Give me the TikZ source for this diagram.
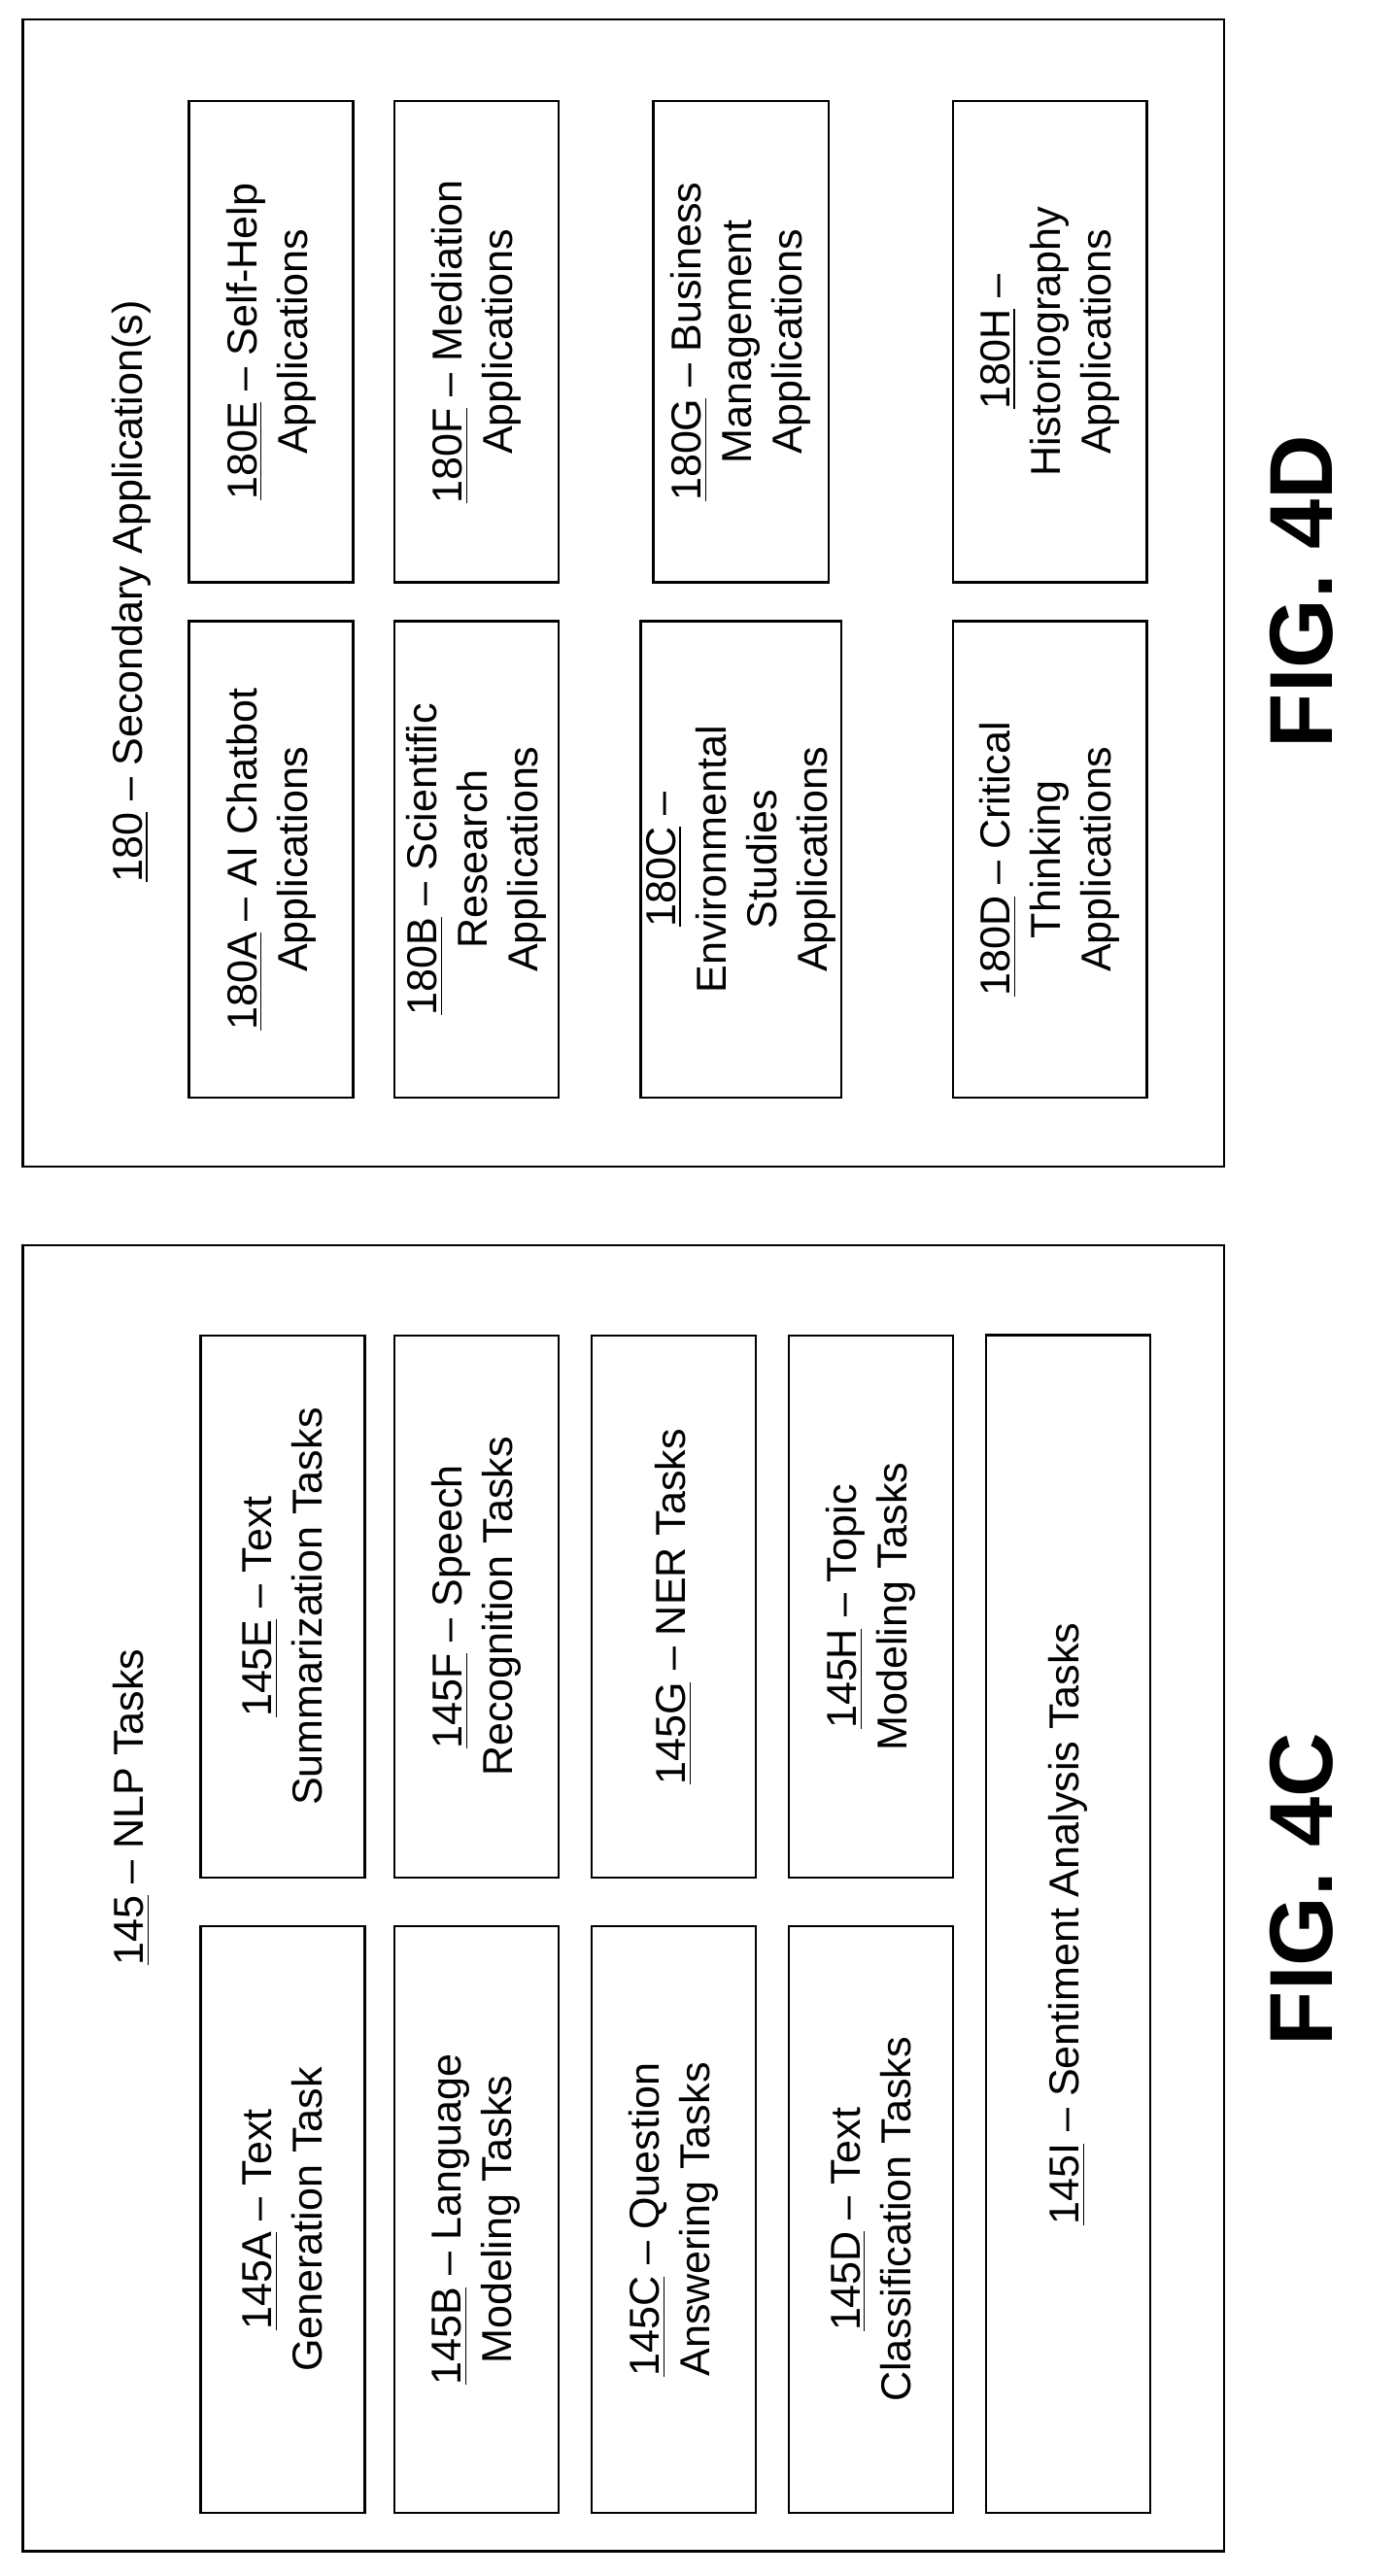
\documentclass[tikz,border=0pt]{standalone}
\usepackage{fontspec}
\setmainfont{Liberation Sans}
\begin{document}
\begin{tikzpicture}[x=0.02cm, y=-0.02cm,
  task/.style={draw, line width=0.8pt, rotate=90, align=center, minimum height=2cm, font=\fontsize{14.5}{17.5}\selectfont, inner sep=2pt},
  frame/.style={draw, line width=0.8pt},
  title/.style={rotate=90, font=\fontsize{14.5}{17.5}\selectfont},
  fig/.style={rotate=90, font=\fontsize{31}{36}\selectfont\bfseries}]
\useasboundingbox (0,0) rectangle (850,1568);
% FIG. 4C
\draw[frame] (14,758) rectangle (745,1553);
\node (t145) [title] at (80,1100) {\underline{145} -- NLP Tasks};
\node (n145E) [task, minimum width=6.6cm] at (172,978) {\underline{145E} -- Text\\Summarization Tasks};
\node (n145A) [task, minimum width=7.14cm] at (172,1351) {\underline{145A} -- Text\\Generation Task};
\node (n145F) [task, minimum width=6.6cm] at (290,978) {\underline{145F} -- Speech\\Recognition Tasks};
\node (n145B) [task, minimum width=7.14cm] at (290,1351) {\underline{145B} -- Language\\Modeling Tasks};
\node (n145G) [task, minimum width=6.6cm] at (410,978) {\underline{145G} -- NER Tasks};
\node (n145C) [task, minimum width=7.14cm] at (410,1351) {\underline{145C} -- Question\\Answering Tasks};
\node (n145H) [task, minimum width=6.6cm] at (530,978) {\underline{145H} -- Topic\\Modeling Tasks};
\node (n145D) [task, minimum width=7.14cm] at (530,1351) {\underline{145D} -- Text\\Classification Tasks};
\node (n145I) [task, minimum width=14.34cm] at (650,1171) {\underline{145I} -- Sentiment Analysis Tasks};
\node (fig4C) [fig] at (792,1150) {FIG. 4C};
% FIG. 4D
\draw[frame] (14,12) rectangle (745,710);
\node (t180) [title] at (80,360) {\underline{180} -- Secondary Application(s)};
\node (n180E) [task, minimum width=5.86cm] at (165,208) {\underline{180E} -- Self-Help\\Applications};
\node (n180A) [task, minimum width=5.8cm] at (165,523) {\underline{180A} -- AI Chatbot\\Applications};
\node (n180F) [task, minimum width=5.86cm] at (290,208) {\underline{180F} -- Mediation\\Applications};
\node (n180B) [task, minimum width=5.8cm] at (290,523) {\underline{180B} -- Scientific\\Research\\Applications};
\node (n180G) [task, minimum width=5.86cm, minimum height=2.14cm] at (451,208) {\underline{180G} -- Business\\Management\\Applications};
\node (n180C) [task, minimum width=5.8cm, minimum height=2.14cm] at (451,523) {\underline{180C} --\\Environmental\\Studies\\Applications};
\node (n180H) [task, minimum width=5.86cm, minimum height=2.36cm] at (639,208) {\underline{180H} --\\Historiography\\Applications};
\node (n180D) [task, minimum width=5.8cm, minimum height=2.36cm] at (639,523) {\underline{180D} -- Critical\\Thinking\\Applications};
\node (fig4D) [fig] at (792,360) {FIG. 4D};
\end{tikzpicture}
\end{document}
